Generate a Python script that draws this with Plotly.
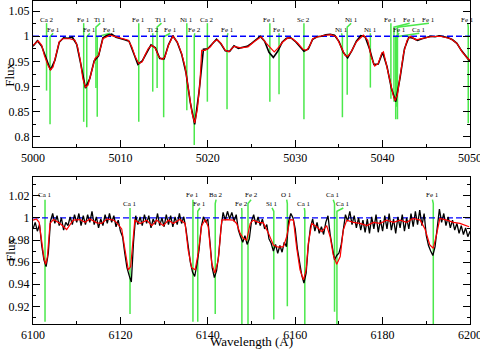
import plotly.graph_objects as go

# ---------------- top panel data ----------------
top_model_wl = [5000.0,5000.6,5001.0,5001.3,5001.7,5002.0,5002.3,5002.7,5003.0,5003.4,5004.2,5004.8,5005.1,5005.4,5005.7,5006.0,5006.3,5006.7,5007.1,5007.5,5007.7,5008.0,5008.8,5009.4,5010.2,5010.9,5011.3,5011.7,5012.1,5012.5,5012.8,5013.2,5013.6,5014.0,5014.4,5014.8,5015.1,5015.5,5016.0,5016.5,5017.0,5017.4,5017.8,5018.2,5018.5,5018.8,5019.1,5019.3,5019.7,5020.3,5020.7,5021.1,5021.5,5022.0,5022.4,5023.0,5023.8,5024.6,5025.3,5026.1,5026.7,5027.2,5027.6,5028.0,5028.6,5029.2,5029.7,5030.3,5030.9,5031.3,5031.7,5032.0,5032.6,5033.4,5034.1,5034.7,5035.2,5035.7,5036.0,5036.4,5037.0,5037.8,5038.3,5038.7,5039.1,5039.5,5039.9,5040.1,5040.4,5040.8,5041.2,5041.4,5041.7,5042.0,5042.4,5042.8,5043.2,5043.8,5044.5,5045.5,5046.6,5047.8,5048.5,5049.1,5049.7,5050.0]
top_model_flux = [0.982,0.991,0.982,0.962,0.943,0.933,0.939,0.966,0.989,0.995,0.995,0.992,0.979,0.953,0.916,0.899,0.903,0.930,0.956,0.962,0.976,0.995,1.002,0.999,0.995,0.992,0.979,0.959,0.946,0.949,0.962,0.976,0.982,0.976,0.959,0.954,0.959,0.982,1.000,0.989,0.966,0.939,0.893,0.847,0.828,0.854,0.907,0.972,0.972,0.979,0.989,0.993,0.986,0.972,0.969,0.980,0.977,0.979,0.989,0.999,0.986,0.976,0.969,0.976,0.989,0.997,0.995,0.986,0.974,0.972,0.982,0.995,0.999,1.002,1.003,0.999,0.982,0.962,0.960,0.969,0.989,1.002,0.992,0.959,0.941,0.946,0.966,0.969,0.946,0.913,0.884,0.872,0.884,0.920,0.966,0.992,1.000,0.993,0.995,0.999,1.000,0.995,0.986,0.969,0.956,0.953]

top_obs_start = 5000.0
top_obs_step = 0.5
top_obs_flux = [0.980,0.991,0.980,0.955,0.933,0.952,0.988,0.997,0.996,0.998,
                0.984,0.942,0.897,0.916,0.951,0.961,0.997,1.002,1.004,0.998,
                0.996,0.993,0.990,0.968,0.944,0.951,0.968,0.983,0.977,0.956,
                0.955,0.983,1.001,0.988,0.965,0.928,0.868,0.825,0.890,0.974,
                0.975,0.985,0.994,0.985,0.971,0.970,0.981,0.976,0.978,0.980,
                0.986,0.993,1.000,0.990,0.968,0.958,0.970,0.988,0.996,0.997,
                0.990,0.980,0.970,0.975,0.994,0.999,1.000,1.003,1.004,1.002,
                0.990,0.968,0.957,0.972,0.990,1.001,0.999,0.975,0.944,0.945,
                0.968,0.940,0.897,0.870,0.918,0.975,0.998,0.996,0.992,0.995,
                0.997,1.000,0.999,1.001,0.999,0.997,0.993,0.986,0.972,0.960,
                0.950]

top_line_names = ["Ca 2","Fe 1","Fe 1","Fe 1","Ti 1","Fe 1","Fe 1","Ti 2","Ti 1","Fe 1","Ni 1","Fe 2","Ca 2","Fe 1",
                  "Fe 1","Fe 1","Sc 2","Ni 1","Ni 1","Ni 1","Fe 1","Fe 1","Fe 1","Ca 1","Fe 1","Fe 1"]
top_line_wl = [5001.55,5001.95,5005.8,5006.15,5007.2,5007.35,5012.1,5013.7,5014.2,5014.95,5017.6,5018.45,5019.95,5022.2,
               5027.1,5028.15,5031.0,5035.4,5035.95,5038.6,5040.95,5041.5,5041.3,5041.6,5041.7,5049.8]
top_line_depth = [0.892,0.825,0.830,0.819,0.897,0.840,0.830,0.890,0.897,0.839,0.853,0.784,0.870,0.855,
                  0.870,0.885,0.835,0.839,0.884,0.898,0.876,0.835,0.870,0.860,0.835,0.827]
top_label_wl = [5001.55,5002.3,5005.8,5006.5,5007.7,5008.8,5012.1,5013.7,5014.7,5015.7,5017.6,5018.5,5019.95,5022.3,
                5027.1,5028.15,5031.0,5035.3,5036.4,5038.6,5040.95,5041.9,5043.1,5044.2,5045.3,5049.75]
top_label_upper = [1,0,1,0,1,0,1,0,1,0,1,0,1,0,1,0,1,0,1,0,1,0,1,0,1,1]

# ---------------- bottom panel data ----------------
bot_model_wl = [6100.0,6100.8,6101.4,6102.0,6102.5,6102.9,6103.3,6103.9,6104.65,6106.2,6107.7,6109.2,6110.75,6111.9,6113.0,6114.6,6115.7,6116.9,6118.4,6119.1,6120.3,6121.1,6121.8,6122.35,6122.95,6123.3,6124.5,6126.0,6127.2,6128.3,6129.8,6131.0,6132.1,6133.6,6134.8,6135.5,6136.3,6137.1,6137.8,6138.6,6139.4,6140.1,6140.9,6141.6,6142.4,6143.2,6144.3,6145.8,6146.6,6147.4,6148.1,6148.9,6149.7,6150.4,6151.6,6152.7,6153.9,6155.0,6156.1,6157.3,6158.05,6158.8,6159.6,6160.3,6161.1,6161.9,6162.5,6163.0,6163.8,6164.9,6166.1,6167.2,6168.0,6168.7,6169.5,6170.3,6171.0,6171.8,6173.3,6174.8,6176.4,6177.9,6179.4,6180.9,6182.5,6184.0,6185.5,6187.0,6188.6,6189.7,6190.8,6191.6,6192.4,6193.1,6194.7,6196.2,6197.7,6199.8]
bot_model_flux = [0.998,0.999,0.996,0.977,0.964,0.958,0.965,0.995,0.9985,0.995,0.9895,0.998,0.9985,0.996,0.999,0.9955,0.995,0.999,0.998,0.996,0.990,0.970,0.953,0.956,0.983,0.998,0.995,0.998,0.993,0.998,0.993,0.998,0.995,0.9985,0.995,0.971,0.955,0.953,0.968,0.993,0.9985,0.992,0.959,0.950,0.962,0.998,0.9985,0.998,0.995,0.986,0.9815,0.980,0.995,0.998,0.996,0.9955,0.986,0.9755,0.9735,0.974,0.983,0.9985,0.998,0.974,0.953,0.944,0.953,0.977,0.995,0.992,0.9875,0.993,0.983,0.9665,0.958,0.965,0.989,0.998,0.996,0.995,0.993,0.996,0.995,0.998,0.996,0.998,0.996,0.9995,0.998,0.990,0.9755,0.9725,0.986,0.9995,0.998,0.996,0.995,0.992]

bot_obs_start = 6100.0
bot_obs_step = 0.5
bot_obs_flux = [0.990,0.996,0.988,0.994,0.975,0.962,0.956,0.968,0.997,1.004,
                0.995,1.002,0.993,1.000,0.989,0.996,0.993,1.001,0.994,1.003,
                0.996,1.004,0.993,1.002,0.994,1.003,0.996,1.006,0.994,1.001,
                0.991,0.999,0.993,1.003,0.995,1.004,0.996,1.002,0.992,0.998,
                0.988,0.983,0.968,0.955,0.948,0.942,0.978,1.002,0.994,1.001,
                0.993,1.003,0.995,1.002,0.991,0.999,0.994,1.004,0.993,1.000,
                0.992,1.003,0.994,1.002,0.992,1.001,0.994,1.004,0.995,1.001,
                0.990,0.972,0.960,0.951,0.947,0.958,0.971,0.992,1.001,0.996,
                0.999,0.978,0.955,0.946,0.952,0.967,0.990,1.005,0.998,1.006,
                0.999,1.005,0.997,1.003,0.989,0.983,0.978,0.984,0.976,0.981,
                0.997,1.003,0.994,1.001,0.993,0.999,0.990,0.994,0.981,0.977,
                0.970,0.976,0.968,0.975,0.969,0.978,0.974,0.997,1.004,1.000,
                0.990,0.972,0.958,0.948,0.941,0.950,0.975,0.992,0.999,0.988,
                0.996,0.986,0.992,0.985,0.996,1.002,0.985,0.975,0.962,0.966,
                0.968,0.975,0.991,1.003,0.997,1.006,0.994,1.002,0.991,1.000,
                0.989,0.998,0.987,0.999,0.986,1.001,0.990,1.003,0.987,0.998,
                0.988,1.002,0.990,1.004,0.989,0.999,0.986,1.001,0.991,1.003,
                0.988,1.000,0.990,1.004,0.992,1.006,0.994,1.007,0.993,1.004,
                0.984,0.975,0.970,0.966,0.974,0.990,1.008,0.996,1.004,0.993,
                1.001,0.991,0.998,0.989,0.995,0.986,0.993,0.985,0.991,0.983,
                0.988]

bot_line_names = ["Ca 1","Ca 1","Fe 1","Fe 1","Ba 2","Fe 2","Fe 2","Si 1","O 1","Ca 1","Ca 1","Ca 1","Fe 1"]
bot_line_wl = [6102.75,6122.2,6136.6,6137.7,6141.7,6147.8,6149.2,6155.1,6158.2,6162.2,6169.0,6169.55,6191.6]
bot_line_depth = [0.906,0.913,0.906,0.906,0.913,0.904,0.904,0.908,0.920,0.900,0.915,0.900,0.900]
bot_label_wl = [6102.75,6122.2,6136.6,6138.2,6141.9,6147.75,6149.9,6154.7,6158.05,6162.1,6168.7,6171.0,6191.4]
bot_label_upper = [1,0,1,0,1,0,1,0,1,0,1,0,1]

# ---------------- figure ----------------
FONT = "Liberation Serif"
GREEN = "#4be84b"
fig = go.Figure()

def add_panel(xa, ya, model_wl, model_flux, obs_start, obs_step, obs_flux,
              names, lwl, ldepth, labwl, labup, lev_up, lev_lo, xr, obs_width):
    for n, w, d, lw, up in zip(names, lwl, ldepth, labwl, labup):
        lev = lev_up if up else lev_lo
        fig.add_trace(go.Scatter(x=[lw, w, w], y=[lev[1], lev[2], d], mode="lines",
                                 line=dict(color=GREEN, width=1.5), xaxis=xa, yaxis=ya,
                                 showlegend=False, hoverinfo="skip"))
        fig.add_annotation(x=lw, y=lev[0], text=n, showarrow=False, xref=xa, yref=ya,
                           font=dict(family=FONT, size=7, color="black"),
                           xanchor="center", yanchor="middle")
    fig.add_trace(go.Scatter(x=list(xr), y=[1, 1], mode="lines",
                             line=dict(color="#0000ff", width=1.3, dash="6px,3px"),
                             xaxis=xa, yaxis=ya, showlegend=False))
    obs_wl = [obs_start + i * obs_step for i in range(len(obs_flux))]
    fig.add_trace(go.Scatter(x=obs_wl, y=obs_flux, mode="lines",
                             line=dict(color="black", width=obs_width),
                             xaxis=xa, yaxis=ya, showlegend=False))
    fig.add_trace(go.Scatter(x=model_wl, y=model_flux, mode="lines",
                             line=dict(color="#ff0000", width=1.2),
                             xaxis=xa, yaxis=ya, showlegend=False))

add_panel("x", "y", top_model_wl, top_model_flux, top_obs_start, top_obs_step, top_obs_flux,
          top_line_names, top_line_wl, top_line_depth, top_label_wl, top_label_upper,
          (1.033, 1.026, 1.018), (1.013, 1.006, 0.999), (5000, 5050), 1.6)
add_panel("x2", "y2", bot_model_wl, bot_model_flux, bot_obs_start, bot_obs_step, bot_obs_flux,
          bot_line_names, bot_line_wl, bot_line_depth, bot_label_wl, bot_label_upper,
          (1.0205, 1.0165, 1.013), (1.0128, 1.009, 1.006), (6100, 6200), 1.3)

axis_common = dict(showline=True, linecolor="black", linewidth=1, mirror="allticks",
                   ticks="inside", ticklen=7, tickcolor="black", showgrid=False, zeroline=False,
                   automargin=False, ticklabeloverflow="allow",
                   tickfont=dict(family=FONT, size=12, color="black"))
minor_common = dict(ticks="inside", ticklen=3, tickcolor="black")

fig.update_layout(
    width=480, height=349,
    margin=dict(l=33, r=10, t=1, b=25),
    paper_bgcolor="white", plot_bgcolor="white",
    showlegend=False,
    xaxis=dict(domain=[0, 1], anchor="y", range=[5000, 5050], dtick=10,
               minor=dict(dtick=5, **minor_common), **axis_common),
    yaxis=dict(domain=[0.548, 1], anchor="x", range=[0.78, 1.07], dtick=0.05,
               minor=dict(dtick=0.025, **minor_common), **axis_common),
    xaxis2=dict(domain=[0, 1], anchor="y2", range=[6100, 6200], dtick=20,
                minor=dict(dtick=10, **minor_common), **axis_common),
    yaxis2=dict(domain=[0, 0.455], anchor="x2", range=[0.904, 1.037], dtick=0.02,
                minor=dict(dtick=0.01, **minor_common), **axis_common),
)

for yc in (0.771, 0.229):
    fig.add_annotation(x=-0.053, y=yc, xref="paper", yref="paper", text="Flux", textangle=-90,
                       showarrow=False, font=dict(family=FONT, size=13, color="black"),
                       xanchor="center", yanchor="middle")
fig.add_annotation(x=0.5, y=-0.055, xref="paper", yref="paper", text="Wavelength (A)",
                   showarrow=False, font=dict(family=FONT, size=13, color="black"),
                   xanchor="center", yanchor="middle")

fig.write_html("out.html", config={"displayModeBar": False},
               post_script="document.body.style.margin='0';document.body.style.overflow='hidden';")
